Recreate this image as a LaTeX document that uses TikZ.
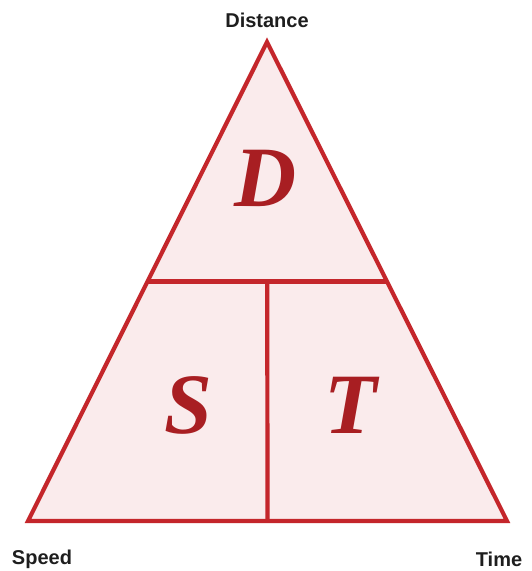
\documentclass[tikz,border=0pt]{standalone}
\usepackage{fontspec}
\setmainfont{Liberation Serif}
\newfontfamily\labelfont{Liberation Sans}
\usepackage{tikz}
\usetikzlibrary{positioning,calc}
\definecolor{edgered}{HTML}{C4262B}
\definecolor{letterred}{HTML}{A81E22}
\definecolor{panelfill}{HTML}{FAEBEC}
\definecolor{labelgray}{HTML}{1E1E1E}

\begin{document}
\begin{tikzpicture}[
    x=1pt, y=-1pt,
    edge/.style={draw=edgered, line width=4.2pt, line join=miter},
    letter/.style={text=letterred, font=\fontsize{86}{86}\selectfont\bfseries\itshape},
    corner/.style={text=labelgray, font=\labelfont\bfseries\fontsize{20}{22}\selectfont}
]
    \useasboundingbox (0,0) rectangle (532,571);

    % corners of the triangle
    \coordinate (apex) at (267,42);
    \coordinate (baseL) at (28,521);
    \coordinate (baseR) at (507,521);
    \coordinate (midL) at ($(apex)!0.5!(baseL)$);
    \coordinate (midR) at ($(apex)!0.5!(baseR)$);
    \coordinate (midB) at ($(baseL)!0.5!(baseR)$);
    \coordinate (midC) at ($(midL)!0.5!(midR)$);

    % triangle and dividers
    \path[edge, fill=panelfill] (apex) -- (baseR) -- (baseL) -- cycle;
    \draw[edge] (midL) -- (midR);
    \draw[edge] (midC) -- (midB);

    % formula letters
    \node[letter] (dist) at (266,178) {D};
    \node[letter] (speed) at (188,405) {S};
    \node[letter] (time) at (351,405) {T};

    % labels
    \node[corner] (lblD) at (267,20) {Distance};
    \node[corner] (lblS) at (42,559) {Speed};
    \node[corner] (lblT) at (499,559) {Time};
\end{tikzpicture}
\end{document}
